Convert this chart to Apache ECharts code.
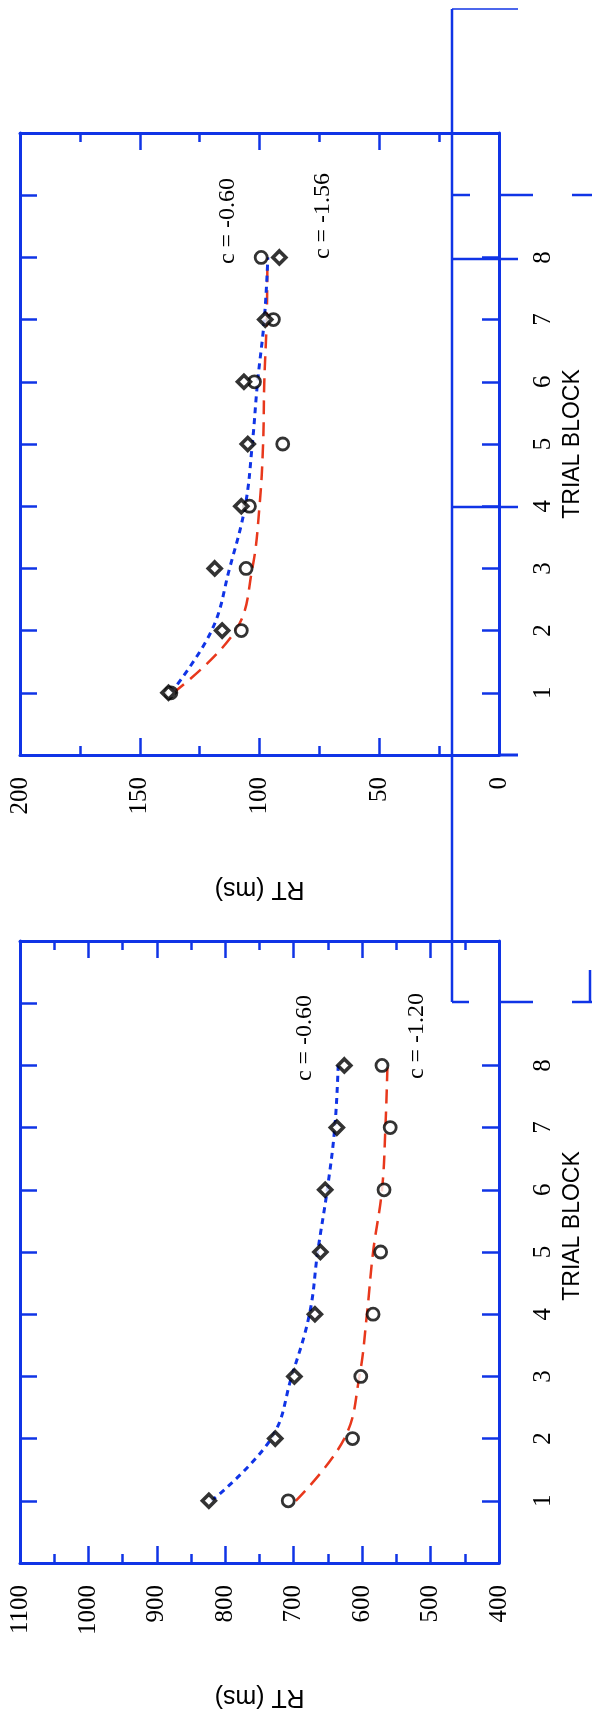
<!DOCTYPE html>
<html>
<head>
<meta charset="utf-8">
<script src="https://cdn.jsdelivr.net/npm/echarts@6/dist/echarts.min.js"></script>
<style>html,body{margin:0;padding:0;background:#fff}#c{width:592px;height:1719px}</style>
</head>
<body>
<div id="c"></div>
<script>
// ---- data ----
const blocks = [1, 2, 3, 4, 5, 6, 7, 8];
const blockTicks = [1, 2, 3, 4, 5, 6, 7, 8];
const mirrorTicks = [1, 2, 3, 4, 5, 6, 7, 8, 9];

// Upper panel (RT 0-200)
const upperDiamond = [138, 115.6, 118.7, 107.6, 104.9, 106.5, 97.6, 91.7];
const upperCircle  = [137, 107.6, 105.6, 104.2, 90.3, 102.1, 94.2, 99.3];
const upperFitBlue = [137, 120, 112.5, 106, 103, 100.8, 98, 96.5];
const upperFitRed  = [136, 110, 103, 100, 98.5, 98, 97, 96.7];
const upperLabels  = ['c = -0.60', 'c = -1.56'];

// Lower panel (RT 400-1100)
const lowerDiamond = [824, 727, 699, 669, 661, 654, 637, 626];
const lowerCircle  = [708, 614, 602, 584, 573, 568, 559, 571];
const lowerFitBlue = [820, 733, 703, 677, 665, 651, 640, 635];
const lowerFitRed  = [697, 626, 604, 593, 584, 571, 566, 563];
const lowerLabels  = ['c = -0.60', 'c = -1.20'];

// ---- styling ----
const BLUE = '#1034e6';
const RED = '#e8381c';
const SERIF = 'Liberation Serif';
const SANS = 'Liberation Sans';

function pairs(vals) { return vals.map((v, i) => [v, blocks[i]]); }

function rtAxis(grid, min, max, interval, main) {
  return {
    gridIndex: grid, type: 'value', min: min, max: max, interval: interval,
    inverse: true, position: main ? 'bottom' : 'top',
    axisLine: { show: true, onZero: false, lineStyle: { color: BLUE, width: 3 } },
    axisTick: { show: true, inside: true, length: 17, lineStyle: { color: BLUE, width: 2.5 } },
    minorTick: { show: true, splitNumber: 2, length: 9, lineStyle: { color: BLUE, width: 2.5 } },
    splitLine: { show: false }, minorSplitLine: { show: false },
    axisLabel: main ? { show: true, rotate: 90, margin: 22, color: '#000', fontFamily: SERIF, fontSize: 25,
      formatter: function (v) { return String(v); } } : { show: false },
    name: main ? 'RT (ms)' : '', nameLocation: 'middle', nameRotate: 180, nameGap: 121,
    nameMoveOverlap: false,
    nameTextStyle: { color: '#000', fontFamily: SANS, fontSize: 25 }
  };
}
function blockAxis(grid, main, shift) {
  return {
    gridIndex: grid, type: 'value', min: 0, max: 10, interval: 1,
    position: main ? 'right' : 'left',
    axisLine: { show: true, onZero: false, lineStyle: { color: BLUE, width: 3 } },
    axisTick: { show: true, inside: true, length: 17, customValues: main ? blockTicks : mirrorTicks, lineStyle: { color: BLUE, width: 2.5 } },
    splitLine: { show: false },
    axisLabel: main ? { show: true, rotate: 90, margin: 32, customValues: blockTicks, color: '#000', fontFamily: SERIF, fontSize: 25,
      formatter: function (v) { return String(v); } } : { show: false },
    name: main ? 'TRIAL BLOCK' : '', nameLocation: 'middle', nameRotate: 90, nameGap: 62,
    nameMoveOverlap: false,
    nameTextStyle: { color: '#000', fontFamily: SANS, fontSize: 23, padding: [0, 0, 0, shift || 0] }
  };
}

function panelSeries(axisIdx, diamond, circle, fitBlue, fitRed) {
  return [
    { type: 'line', xAxisIndex: axisIdx, yAxisIndex: axisIdx, data: pairs(fitRed), smooth: 0.4, showSymbol: false, symbol: 'none',
      lineStyle: { color: RED, width: 2.5, type: [14, 8] }, z: 2 },
    { type: 'line', xAxisIndex: axisIdx, yAxisIndex: axisIdx, data: pairs(fitBlue), smooth: 0.4, showSymbol: false, symbol: 'none',
      lineStyle: { color: BLUE, width: 3, type: [6, 5] }, z: 2 },
    { type: 'scatter', xAxisIndex: axisIdx, yAxisIndex: axisIdx, data: pairs(circle), symbol: 'circle', symbolSize: 12,
      itemStyle: { color: '#fff', borderColor: '#000', borderWidth: 2.8 }, z: 4 },
    { type: 'scatter', xAxisIndex: axisIdx, yAxisIndex: axisIdx, data: pairs(diamond), symbol: 'diamond', symbolSize: 13,
      itemStyle: { color: '#fff', borderColor: '#000', borderWidth: 3.6 }, z: 5 }
  ];
}

// stray frame lines present in the reference image
function seg(x1, y1, x2, y2, w) {
  return { type: 'line', shape: { x1: x1, y1: y1, x2: x2, y2: y2 }, style: { stroke: BLUE, lineWidth: w || 2.5 }, z: 10 };
}
function note(text, x, y) {
  return { type: 'text', x: x, y: y, rotation: Math.PI / 2,
    style: { text: text, fill: '#000', font: '24px "' + SERIF + '"', align: 'center', verticalAlign: 'middle' }, z: 10 };
}

const chart = echarts.init(document.getElementById('c'), null, { renderer: 'canvas' });
chart.setOption({
  animation: false,
  backgroundColor: '#fff',
  grid: [
    { left: 20, top: 133, width: 480, height: 622 },
    { left: 20, top: 941, width: 480, height: 622 }
  ],
  xAxis: [
    rtAxis(0, 0, 200, 50, true),
    rtAxis(1, 400, 1100, 100, true),
    rtAxis(0, 0, 200, 50, false),
    rtAxis(1, 400, 1100, 100, false)
  ],
  yAxis: [
    blockAxis(0, true, 0),
    blockAxis(1, true, 52),
    blockAxis(0, false),
    blockAxis(1, false)
  ],
  series: [].concat(
    panelSeries(0, upperDiamond, upperCircle, upperFitBlue, upperFitRed),
    panelSeries(1, lowerDiamond, lowerCircle, lowerFitBlue, lowerFitRed)
  ),
  graphic: [
    seg(452, 9, 452, 1002, 2.5),
    seg(452, 9, 518, 9, 1.5),
    seg(452, 195, 470, 195), seg(500, 195, 533, 195), seg(572, 195, 592, 195),
    seg(452, 259, 518, 259),
    seg(452, 507, 518, 507),
    seg(500, 755, 518, 755, 3),
    seg(452, 1002, 469, 1002), seg(500, 1002, 533, 1002), seg(572, 1002, 592, 1002),
    seg(590, 970, 590, 1002),
    note(upperLabels[0], 228, 221),
    note(upperLabels[1], 323, 216),
    note(lowerLabels[0], 305, 1038),
    note(lowerLabels[1], 417, 1036)
  ]
});
</script>
</body>
</html>
